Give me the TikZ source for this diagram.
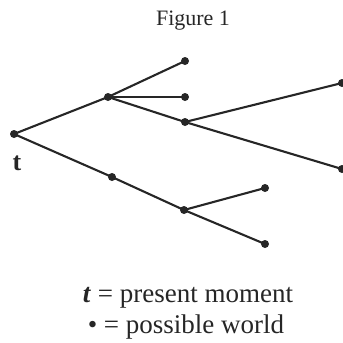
\documentclass[tikz,border=0pt]{standalone}
\usepackage{fontspec}
\setmainfont{Liberation Serif}
\begin{document}
\begin{tikzpicture}[x=1pt,y=-1pt,
  dot/.style={circle,fill=black!85,inner sep=0pt,minimum size=8pt},
  edge/.style={line width=2.1pt,draw=black!85},
  txt/.style={anchor=base,text=black!85,inner sep=0pt}]
\useasboundingbox (0,0) rectangle (343,343);
\node[dot] (R) at (14,134) {};
\node[dot] (A) at (108,97) {};
\node[dot] (A1) at (185,61) {};
\node[dot] (A2) at (185,97) {};
\node[dot] (B) at (185,122) {};
\node[dot] (B1) at (342,83) {};
\node[dot] (B2) at (342,169) {};
\node[dot] (C) at (112,177) {};
\node[dot] (D) at (184,210) {};
\node[dot] (D1) at (265,188) {};
\node[dot] (D2) at (265,244) {};
\draw[edge] (R.center) -- (A.center);
\draw[edge] (A.center) -- (A1.center);
\draw[edge] (A.center) -- (A2.center);
\draw[edge] (A.center) -- (B.center);
\draw[edge] (B.center) -- (B1.center);
\draw[edge] (B.center) -- (B2.center);
\draw[edge] (R.center) -- (C.center);
\draw[edge] (C.center) -- (D.center);
\draw[edge] (D.center) -- (D1.center);
\draw[edge] (D.center) -- (D2.center);
\node[txt,font=\fontsize{22}{26}\selectfont] (title) at (193,25) {Figure 1};
\node[txt,font=\bfseries\fontsize{26}{30}\selectfont] (tl) at (17,170) {t};
\node[txt,font=\fontsize{27}{32}\selectfont] (l1) at (188,302) {\textbf{\textit{t}} = present moment};
\node[txt,font=\fontsize{27}{32}\selectfont] (l2) at (186,333) {• = possible world};
\end{tikzpicture}
\end{document}
